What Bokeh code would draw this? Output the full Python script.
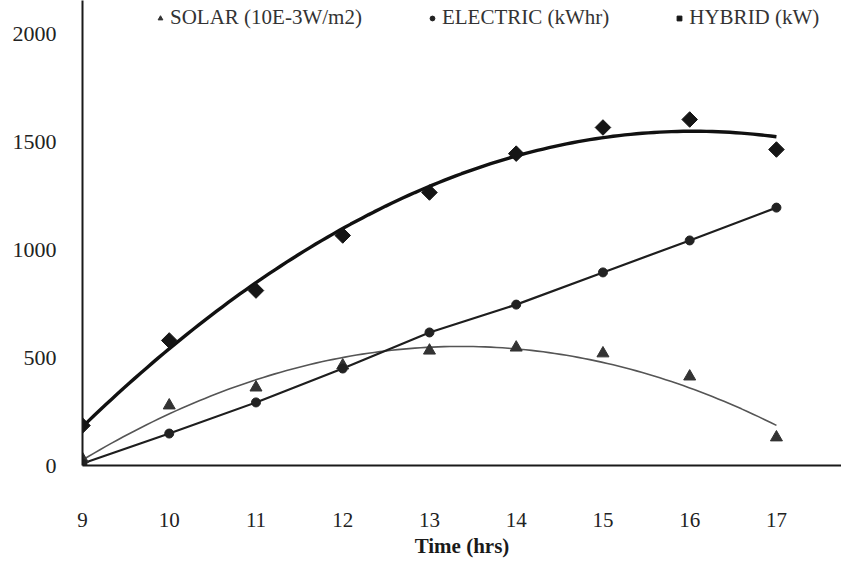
import numpy as np
from bokeh.plotting import figure
from bokeh.models import Legend, LegendItem, FixedTicker, Range1d
from bokeh.embed import file_html
from bokeh.resources import INLINE

# ---- data ----
hours = [9, 10, 11, 12, 13, 14, 15, 16, 17]
solar = [30, 278, 361, 463, 532, 546, 519, 412, 130]        # 10E-3 W/m2
electric = [9, 148, 292, 449, 616, 745, 894, 1042, 1194]    # kWhr
hybrid = [185, 579, 810, 1065, 1264, 1444, 1565, 1602, 1463]  # kW
x_ticks = [9, 10, 11, 12, 13, 14, 15, 16, 17]
y_ticks = [0, 500, 1000, 1500, 2000]

SERIF = "Liberation Serif"

p = figure(width=841, height=560, output_backend="svg", toolbar_location=None,
           x_range=Range1d(9, 17.75), y_range=Range1d(0, 2153),
           min_border_left=82, min_border_right=0, min_border_top=0,
           min_border_bottom=95)
p.background_fill_color = "white"
p.border_fill_color = "white"
p.outline_line_color = None
p.xgrid.visible = False
p.ygrid.visible = False

# quadratic trend curves (from the data)
xs = np.linspace(9, 17, 120)
sol_fit = np.polyval(np.polyfit(hours, solar, 2), xs)
hyb_fit = np.polyval(np.polyfit(hours, hybrid, 2), xs)

p.line(xs, sol_fit, line_color="#555555", line_width=1.6)
p.line(hours, electric, line_color="#1e1e1e", line_width=2.2)
p.line(xs, hyb_fit, line_color="#111111", line_width=3.4)

r_sol = p.scatter(hours, solar, marker="triangle", size=12,
                  fill_color="#333333", line_color="#333333")
r_ele = p.scatter(hours, electric, marker="circle", size=9,
                  fill_color="#222222", line_color="#222222")
r_hyb = p.scatter(hours, hybrid, marker="square", size=11, angle=np.pi / 4,
                  fill_color="#151515", line_color="#151515")

# axes
for ax in (p.xaxis[0], p.yaxis[0]):
    ax.axis_line_width = 2
    ax.axis_line_color = "#1a1a1a"
    ax.major_tick_line_color = None
    ax.minor_tick_line_color = None
    ax.major_label_text_font = SERIF
    ax.major_label_text_color = "#222222"

p.xaxis.ticker = FixedTicker(ticks=x_ticks)
p.yaxis.ticker = FixedTicker(ticks=y_ticks)
p.xaxis.major_label_text_font_size = "21px"
p.yaxis.major_label_text_font_size = "22px"
p.xaxis.major_label_standoff = 41
p.yaxis.major_label_standoff = 20

p.xaxis.axis_label = "Time (hrs)"
p.xaxis.axis_label_text_font = "Liberation Sans Narrow"
p.xaxis.axis_label_text_font_style = "bold"
p.xaxis.axis_label_text_font_size = "21px"
p.xaxis.axis_label_text_color = "#1a1a1a"
p.xaxis.axis_label_standoff = 4

legend = Legend(items=[
    LegendItem(label="SOLAR (10E-3W/m2)", renderers=[r_sol]),
    LegendItem(label="ELECTRIC (kWhr)", renderers=[r_ele]),
    LegendItem(label="HYBRID (kW)", renderers=[r_hyb]),
], orientation="horizontal", location=(72, 435))
legend.background_fill_alpha = 0
legend.border_line_color = None
legend.padding = 0
legend.margin = 0
legend.spacing = 64
legend.glyph_width = 12
legend.glyph_height = 12
legend.label_standoff = 4
legend.label_text_font = SERIF
legend.label_text_font_size = "21px"
legend.label_text_color = "#333333"
p.add_layout(legend, "center")

open("out.html", "w").write(file_html(p, INLINE))
